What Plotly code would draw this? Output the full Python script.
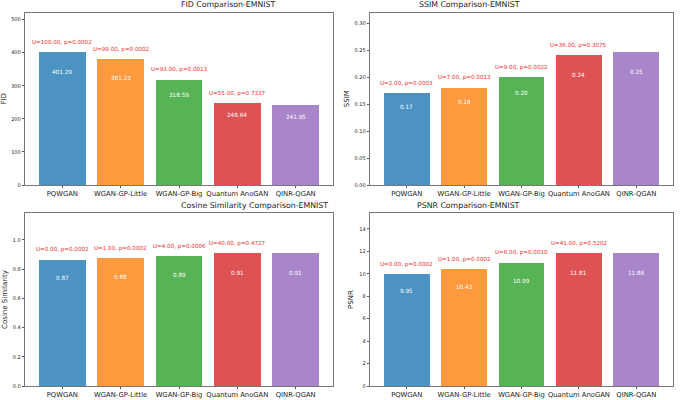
import plotly.graph_objects as go

models = ["PQWGAN", "WGAN-GP-Little", "WGAN-GP-Big", "Quantum AnoGAN", "QINR-QGAN"]
colors = ["#1f77b4", "#ff7f0e", "#2ca02c", "#d62728", "#9467bd"]

fid_vals = [401.29, 381.23, 318.59, 248.64, 241.95]
fid_u = ["U=100.00, p=0.0002", "U=99.00, p=0.0002", "U=93.00, p=0.0013", "U=55.00, p=0.7337"]
fid_ticks = [0, 100, 200, 300, 400, 500]

ssim_vals = [0.1707, 0.181, 0.200, 0.2415, 0.2465]
ssim_labels = ["0.17", "0.18", "0.20", "0.24", "0.25"]
ssim_u = ["U=2.00, p=0.0003", "U=7.00, p=0.0013", "U=9.00, p=0.0022", "U=36.00, p=0.3075"]
ssim_ticks = [0.0, 0.05, 0.10, 0.15, 0.20, 0.25, 0.30]

cos_vals = [0.866, 0.877, 0.891, 0.911, 0.911]
cos_labels = ["0.87", "0.88", "0.89", "0.91", "0.91"]
cos_u = ["U=0.00, p=0.0002", "U=1.00, p=0.0002", "U=4.00, p=0.0006", "U=40.00, p=0.4727"]
cos_ticks = [0.0, 0.2, 0.4, 0.6, 0.8, 1.0]

psnr_vals = [9.95, 10.42, 10.99, 11.81, 11.86]
psnr_u = ["U=0.00, p=0.0002", "U=1.00, p=0.0002", "U=6.00, p=0.0010", "U=41.00, p=0.5202"]
psnr_ticks = [0, 2, 4, 6, 8, 10, 12, 14]

panels = [
    dict(title="FID Comparison-EMNIST", ylabel="FID", vals=fid_vals,
         labels=[f"{v:.2f}" for v in fid_vals], u=fid_u, ticks=fid_ticks,
         tfmt=lambda t: f"{t:d}", xd=[25/685, 333/685], yd=[1-185/400, 1-12.5/400]),
    dict(title="SSIM Comparison-EMNIST", ylabel="SSIM", vals=ssim_vals,
         labels=ssim_labels, u=ssim_u, ticks=ssim_ticks,
         tfmt=lambda t: f"{t:.2f}", xd=[370/685, 673/685], yd=[1-185/400, 1-12.5/400]),
    dict(title="Cosine Similarity Comparison-EMNIST", ylabel="Cosine Similarity", vals=cos_vals,
         labels=cos_labels, u=cos_u, ticks=cos_ticks,
         tfmt=lambda t: f"{t:.1f}", xd=[25/685, 333/685], yd=[1-386/400, 1-213/400]),
    dict(title="PSNR Comparison-EMNIST", ylabel="PSNR", vals=psnr_vals,
         labels=[f"{v:.2f}" for v in psnr_vals], u=psnr_u, ticks=psnr_ticks,
         tfmt=lambda t: f"{t:d}", xd=[370/685, 673/685], yd=[1-386/400, 1-213/400]),
]

fig = go.Figure()
font = "DejaVu Sans"
annotations = []
layout = {}
for i, p in enumerate(panels):
    n = "" if i == 0 else str(i + 1)
    xa, ya = "x" + n, "y" + n
    mx = max(p["vals"])
    fig.add_trace(go.Bar(x=list(range(len(models))), y=p["vals"], width=0.8,
                         marker=dict(color=colors, opacity=0.8, line=dict(width=0)),
                         xaxis=xa, yaxis=ya, showlegend=False, hoverinfo="skip"))
    layout["xaxis" + n] = dict(domain=p["xd"], anchor=ya, range=[-0.64, 4.64],
                               tickvals=list(range(len(models))), ticktext=models,
                               tickangle=0, automargin=False,
                               tickfont=dict(size=6.8, color="#222", family=font),
                               showline=True, mirror=True, linecolor="#555", linewidth=0.8,
                               ticks="outside", ticklen=2.5, tickcolor="#555",
                               showgrid=False, zeroline=False, fixedrange=True)
    layout["yaxis" + n] = dict(domain=p["yd"], anchor=xa, range=[0, mx * 1.3],
                               tickvals=p["ticks"], ticktext=[p["tfmt"](t) for t in p["ticks"]],
                               automargin=False,
                               tickfont=dict(size=5, color="#222", family=font),
                               title=dict(text=p["ylabel"], font=dict(size=7, color="#222", family=font),
                                          standoff=4),
                               showline=True, mirror=True, linecolor="#555", linewidth=0.8,
                               ticks="outside", ticklen=2.5, tickcolor="#555",
                               showgrid=False, zeroline=False, fixedrange=True)
    for j, v in enumerate(p["vals"]):
        annotations.append(dict(x=j, y=v * 0.85, xref=xa, yref=ya, text=p["labels"][j],
                                showarrow=False, font=dict(size=5.7, color="white", family=font)))
    for j, t in enumerate(p["u"]):
        annotations.append(dict(x=j, y=p["vals"][j] + 0.073 * mx, xref=xa, yref=ya, text=t,
                                showarrow=False, font=dict(size=5.6, color="#e8312f", family=font)))
    annotations.append(dict(x=(p["xd"][0] + p["xd"][1]) / 2, y=p["yd"][1], xref="paper", yref="paper",
                            yanchor="bottom", yshift=1, text=p["title"], showarrow=False,
                            font=dict(size=7.8, color="#222", family=font)))

fig.update_layout(width=685, height=400, margin=dict(l=0, r=0, t=0, b=0),
                  paper_bgcolor="white", plot_bgcolor="white",
                  annotations=annotations, bargap=0, **layout)
fig.write_html("out.html", config={"displayModeBar": False, "staticPlot": True},
               post_script="document.body.style.margin='0';document.body.style.overflow='hidden';")
